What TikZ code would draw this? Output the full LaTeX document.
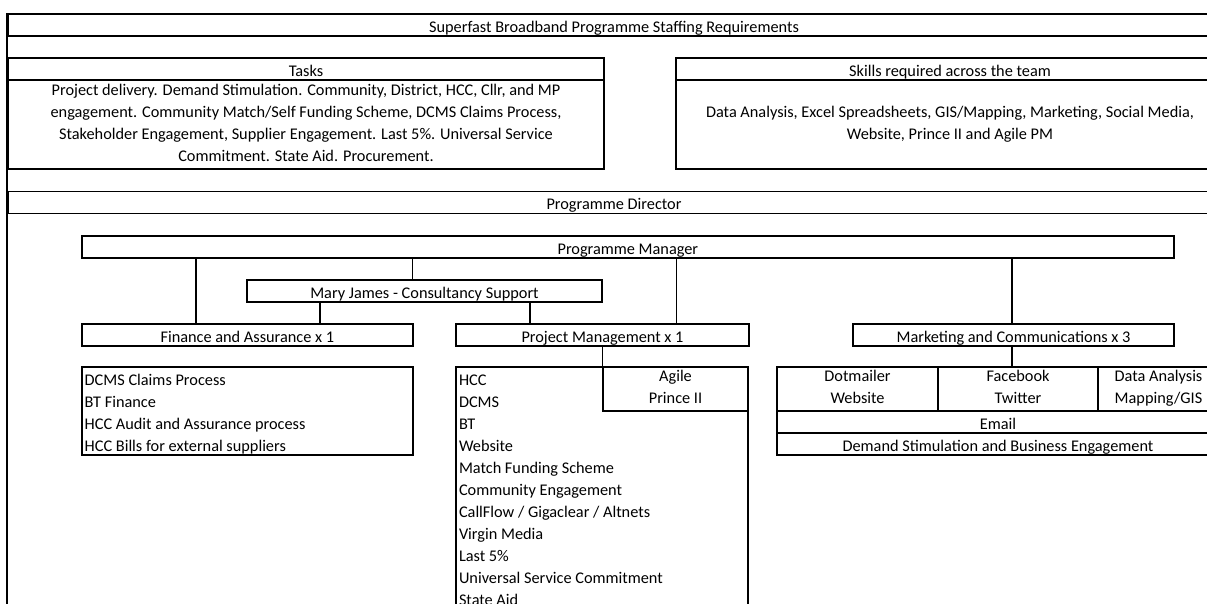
\documentclass[tikz,border=0pt]{standalone}
\usepackage{fontspec}
\setmainfont{Carlito}
\newcommand{\xstrut}{\noindent\rule[-4pt]{0pt}{22pt}}

\begin{document}
\begin{tikzpicture}[x=1pt, y=-1pt,
  every node/.style={font=\fontsize{16.3}{22}\selectfont, inner sep=0pt, rectangle},
  cell/.style={draw, line width=1.8pt, execute at begin node=\xstrut, execute at end node=\xstrut},
  thincell/.style={cell, line width=1pt},
  list/.style={cell, align=flush left, inner xsep=3pt}]
   \path[use as bounding box] (0,0) rectangle (1207,603);
   \clip (0,0) rectangle (1207,603);
   \coordinate (floor) at (8,620);
   \node (title) [cell, minimum width=1212pt, minimum height=22pt] at (614,25) {Superfast Broadband Programme Staffing Requirements};
   \node (taskhead) [cell, minimum width=596pt, minimum height=22pt] at (306,69) {Tasks};
   \node (taskbody) [cell, align=center, minimum width=596pt, minimum height=89pt] at (306,124.5) {Project delivery. Demand Stimulation. Community, District, HCC, Cllr, and MP\\ engagement. Community Match/Self Funding Scheme, DCMS Claims Process,\\ Stakeholder Engagement, Supplier Engagement. Last 5\%. Universal Service\\ Commitment. State Aid. Procurement.};
   \node (skillhead) [cell, minimum width=548pt, minimum height=22pt] at (950,69) {Skills required across the team};
   \node (skillbody) [cell, align=center, minimum width=548pt, minimum height=89pt] at (950,124.5) {Data Analysis, Excel Spreadsheets, GIS/Mapping, Marketing, Social Media,\\ Website, Prince II and Agile PM};
   \node (director) [thincell, minimum width=1212pt, minimum height=22pt] at (614,202.5) {Programme Director};
   \draw[line width=1.8pt] (title.north west) -- (title.north west |- floor);
   \node (manager) [cell, minimum width=1092.3pt, minimum height=22pt] at (627.85,247) {Programme Manager};
   \node (mary) [cell, minimum width=355pt, minimum height=22pt] at (424.5,291) {Mary James - Consultancy Support};
   \node (finance) [cell, minimum width=331.3pt, minimum height=22pt] at (247.35,335) {Finance and Assurance x 1};
   \node (projmgmt) [cell, minimum width=293pt, minimum height=22pt] at (602.5,335) {Project Management x 1};
   \node (marketing) [cell, minimum width=321pt, minimum height=22pt] at (1013.5,335) {Marketing and Communications x 3};
   \node (finlist) [list, text width=325.3pt, minimum height=88pt] at (247.35,411) {DCMS Claims Process\\ BT Finance\\ HCC Audit and Assurance process\\ HCC Bills for external suppliers};
   \node (pmlist) [list, text width=286pt, minimum height=242pt] at (602,488) {HCC\\ DCMS\\ BT\\ Website\\ Match Funding Scheme\\ Community Engagement\\ CallFlow / Gigaclear / Altnets\\ Virgin Media\\ Last 5\%\\ Universal Service Commitment\\ State Aid};
   \begin{scope}[every node/.append style={thincell, line width=1.3pt, align=center, minimum height=44pt}]
    \node (agile) [minimum width=145pt] at (675.5,389) {Agile\\ Prince II};
    \node (dotmailer) [minimum width=161pt] at (857.5,389) {Dotmailer\\ Website};
    \node (facebook) [minimum width=160pt] at (1018,389) {Facebook\\ Twitter};
    \node (datagis) [minimum width=121pt] at (1158.5,389) {Data Analysis\\ Mapping/GIS};
    \node (email) [minimum width=442pt, minimum height=22pt] at (998,422) {Email};
    \node (demand) [minimum width=442pt, minimum height=22pt] at (998,444) {Demand Stimulation and Business Engagement};
   \end{scope}
   \coordinate (k1) at (196,0);
   \coordinate (k2) at (412.5,0);
   \coordinate (k3) at (676.7,0);
   \coordinate (k4) at (1012,0);
   \coordinate (k5) at (320,0);
   \coordinate (k6) at (530,0);
   \begin{scope}[line width=1.1pt]
    \draw (manager.south -| k1) -- (finance.north -| k1);
    \draw (manager.south -| k2) -- (mary.north -| k2);
    \draw (manager.south -| k3) -- (projmgmt.north -| k3);
    \draw (manager.south -| k4) -- (marketing.north -| k4);
    \draw (mary.south -| k5) -- (finance.north -| k5);
    \draw (mary.south -| k6) -- (projmgmt.north -| k6);
    \draw (projmgmt.south -| agile.west) -- (agile.north west);
    \draw (marketing.south -| k4) -- (facebook.north -| k4);
   \end{scope}
\end{tikzpicture}
\end{document}
